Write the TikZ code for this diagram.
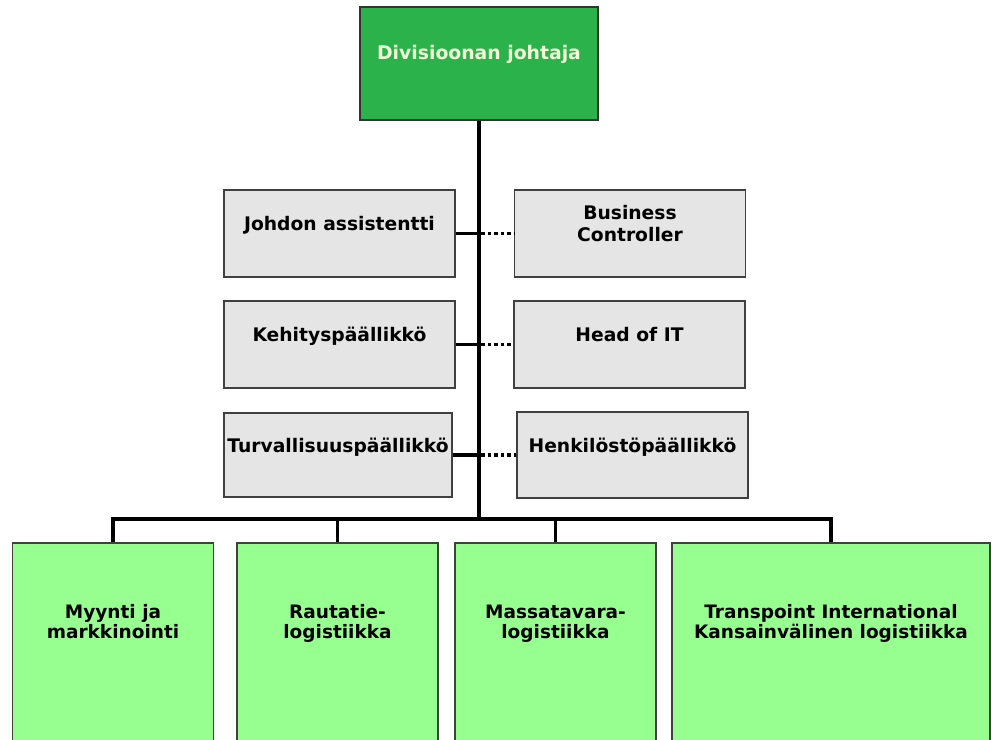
\documentclass[tikz,border=0pt]{standalone}
\usepackage{fontspec}
\setmainfont{DejaVu Sans}
\usepackage{tikz}
\usetikzlibrary{calc}

\definecolor{headgreen}{RGB}{44,178,74}
\definecolor{headtext}{RGB}{242,250,214}
\definecolor{staffgray}{RGB}{229,229,229}
\definecolor{unitgreen}{RGB}{150,255,143}

\begin{document}
\begin{tikzpicture}[
    x=1pt, y=-1pt,
    head_node/.style={rectangle, draw=black!80, fill=headgreen, line width=1.3pt, minimum width=238pt, minimum height=113pt, inner sep=0pt, font=\fontsize{18.8}{22}\selectfont\bfseries, text=headtext, text depth=23pt},
    staff_node/.style={rectangle, draw=black!75, fill=staffgray, line width=1.2pt, minimum width=231pt, minimum height=87pt, inner sep=0pt, font=\fontsize{18.7}{22}\selectfont\bfseries, align=center, text depth=20pt},
    unit_node/.style={rectangle, draw=black!75, fill=unitgreen, line width=1.2pt, minimum width=201pt, minimum height=200pt, inner sep=0pt, font=\fontsize{18.5}{20.5}\selectfont\bfseries, align=center, text depth=43pt},
    main_line/.style={line width=4pt},
    staff_line/.style={line width=3.2pt},
    dot_line/.style={line width=3.2pt, dash pattern=on 3.5pt off 3pt}
]
    \useasboundingbox (0,0) rectangle (992,739);

    % Head of division
    \node[head_node] (dj) at (479,63.5) {Divisioonan johtaja};

    % Staff functions
    \node[staff_node] (ja) at (339.5,233.5) {Johdon assistentti};
    \node[staff_node] (bc) at (630,233.5) {Business\\Controller};
    \node[staff_node] (kp) at (339.5,344.5) {Kehityspäällikkö};
    \node[staff_node] (hit) at (629.5,344.5) {Head of IT};
    \node[staff_node, minimum width=228pt, minimum height=84pt] (tp) at (338,455) {Turvallisuuspäällikkö};
    \node[staff_node, minimum height=86pt] (hp) at (632.5,455) {Henkilöstöpäällikkö};

    % Business units
    \node[unit_node] (myy) at (113,643) {Myynti ja\\markkinointi};
    \node[unit_node] (rau) at (337.5,643) {Rautatie-\\logistiikka};
    \node[unit_node] (mas) at (555.5,643) {Massatavara-\\logistiikka};
    \node[unit_node, minimum width=318pt] (tpi) at (831,643) {Transpoint International\\Kansainvälinen logistiikka};

    % Lines
    \coordinate (bus) at (479,519);
    \draw[main_line] (dj.south) -- (bus);
    \draw[staff_line] (myy.north) |- (bus) -| (tpi.north);
    \draw[staff_line] (rau.north) -- (rau.north |- bus);
    \draw[staff_line] (mas.north) -- (mas.north |- bus);
    \foreach \l/\r in {ja/bc, kp/hit, tp/hp} {
        \draw[staff_line] (\l.east) -- (\l.east -| dj.south);
        \draw[dot_line] ([xshift=2pt]\l.east -| dj.south) -- (\r.west);
    }
\end{tikzpicture}
\end{document}
